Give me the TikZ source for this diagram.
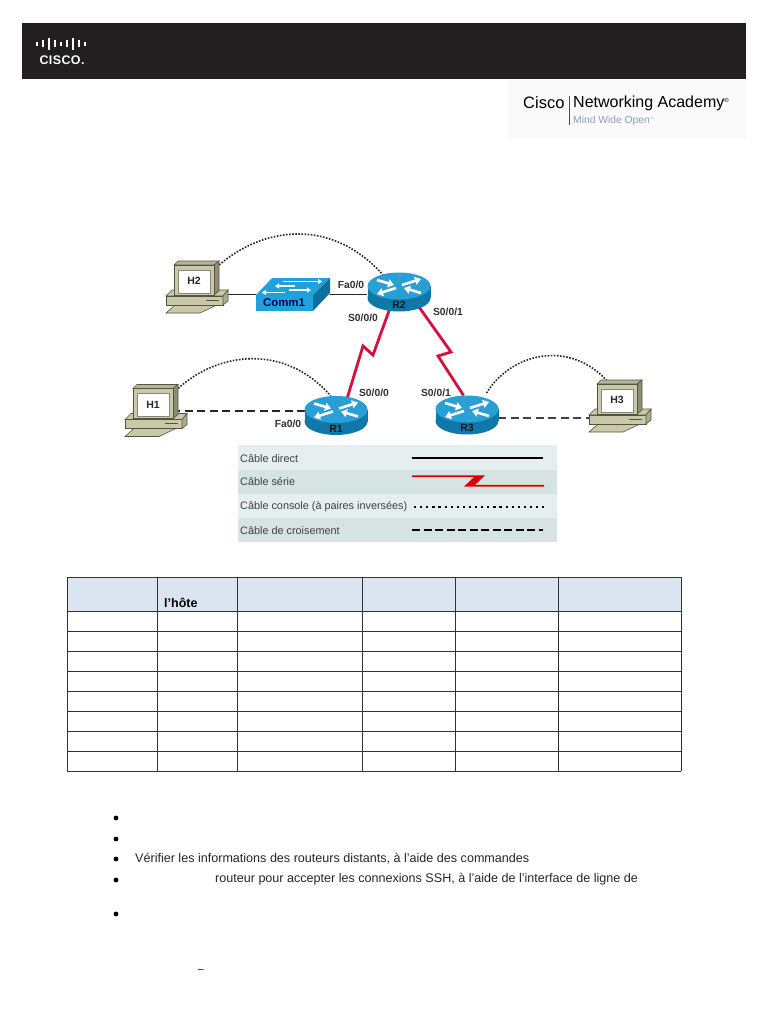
\documentclass[tikz,border=0pt]{standalone}
\usepackage{fontspec}
\setmainfont{Liberation Sans}
\usetikzlibrary{arrows.meta,shapes.geometric}
\definecolor{BarDark}{HTML}{231F20}
\definecolor{RouterTop}{HTML}{2A9FD6}
\definecolor{RouterSide}{HTML}{0F78A8}
\definecolor{SwitchTop}{HTML}{1FA2DC}
\definecolor{SwitchSide}{HTML}{0E6F9E}
\definecolor{PcBody}{HTML}{C9C9AA}
\definecolor{PcLine}{HTML}{55553F}
\definecolor{SerialRed}{HTML}{D5103C}
\definecolor{BandLight}{HTML}{E6EFEF}
\definecolor{BandDark}{HTML}{D6E3E3}
\definecolor{HeadFill}{HTML}{DBE5F1}
\definecolor{AcademyBlue}{HTML}{8C9DB8}
\tikzset{>=Stealth,
 devlabel/.style={font=\bfseries\fontsize{10.5}{12}\selectfont,text=black!85,inner sep=0pt},
 portlabel/.style={font=\bfseries\fontsize{10.3}{12}\selectfont,text=black!80,inner sep=0pt},
 legendlabel/.style={font=\fontsize{10.85}{13}\selectfont,text=black!75,anchor=west,inner sep=0pt},
 bodytext/.style={font=\fontsize{12.57}{15}\selectfont,text=black!85,anchor=west,inner sep=0pt},
 routernode/.style={ellipse,minimum width=63pt,minimum height=39pt,inner sep=0pt},
 pcnode/.style={rectangle,minimum width=45pt,minimum height=34pt,inner sep=0pt},
 switchnode/.style={rectangle,minimum width=74pt,minimum height=33pt,inner sep=0pt},
 direct/.style={draw=black!85,line width=1.2pt},
 serial/.style={draw=SerialRed,line width=2.8pt,line join=miter},
 console/.style={draw=black!85,line width=1.6pt,dash pattern=on 1.6pt off 1.5pt},
 crossover/.style={draw=black!85,line width=1.9pt,dash pattern=on 8pt off 4.5pt},
 whitearrow/.style={draw=white,line width=2.6pt,-{Triangle[length=6pt,width=8pt]}},
 pics/router/.style={code={
  \fill[RouterSide] (0,6) ellipse[x radius=31.5,y radius=13.5];
  \fill[RouterSide] (-31.5,-6) rectangle (31.5,6);
  \fill[RouterTop] (0,-6) ellipse[x radius=31.5,y radius=13.5];
  \foreach \xa/\ya/\xb/\yb in {-22/-12/-5/-7,3/-7/22/-13,-3/-4/-22/2,22/1/5/-4}
   {\draw[whitearrow] (\xa,\ya)--(\xb,\yb);}
  \node[devlabel,text=black!90] (#1lab) at (0,13) {#1};}},
 pics/pcset/.style={code={
  \filldraw[fill=PcBody,draw=PcLine,line width=.6pt] (-30.5,35)--(3.5,35)--(20.5,27)--(-21.5,27)--cycle;
  \filldraw[fill=PcBody,draw=PcLine,line width=.6pt] (-30.5,18)--(-24.5,12)--(31.5,12)--(26.5,18)--cycle;
  \filldraw[fill=PcBody,draw=PcLine,line width=.6pt] (-30.5,18) rectangle (26.5,27);
  \filldraw[fill=PcBody!85!black,draw=PcLine,line width=.6pt] (26.5,18)--(31.5,12)--(31.5,23)--(26.5,27)--cycle;
  \draw[PcLine,line width=.9pt] (9.5,22)--(22.5,22);
  \filldraw[fill=PcBody!90!black,draw=PcLine,line width=.6pt] (-22.5,-13)--(-18.5,-17)--(22.5,-17)--(17.5,-13)--cycle;
  \filldraw[fill=PcBody!70!black,draw=PcLine,line width=.6pt] (17.5,-13)--(22.5,-17)--(22.5,13)--(17.5,17)--cycle;
  \filldraw[fill=PcBody,draw=PcLine,line width=.6pt] (-22.5,-13) rectangle (17.5,17);
  \filldraw[fill=white,draw=PcLine!70,line width=.6pt] (-18.5,-8) rectangle (13.5,15);
  \node[devlabel] (#1lab) at (-2.5,3) {#1};}},
 pics/switchbox/.style={code={
  \fill[SwitchTop] (-37,0.5)--(-21,-16.5)--(37,-16.5)--(20,0.5)--cycle;
  \fill[SwitchSide] (20,0.5)--(37,-16.5)--(37,-1.5)--(20,16.5)--cycle;
  \fill[SwitchTop] (-37,0.5) rectangle (20,16.5);
  \foreach \xa/\ya/\xb/\yb in {-10/-13/29/-13,2/-8.5/-18/-8.5,-4/-4.5/18/-4.5,-8/-2/-31/-2}
   {\draw[whitearrow,line width=1.7pt,-{Triangle[length=4pt,width=5pt]}] (\xa,\ya)--(\xb,\yb);}
  \node[devlabel,text=blue!35!black,font=\bfseries\fontsize{11.4}{13}\selectfont] (switchlab) at (-9,8.5) {Comm1};}}}
\begin{document}
\begin{tikzpicture}[x=1pt,y=-1pt]
\useasboundingbox (0,0) rectangle (768,1024);
\fill[white] (0,0) rectangle (768,1024);
\fill[BarDark] (22,23) rectangle (746,79);
\foreach \x/\h in {37/4,43/7,49/12,55/7,61/4,67/7,73/12,79/7,85/4}
 {\fill[white] (\x-1,44-\h/2) rectangle (\x+1,44+\h/2);}
\node[inner sep=0pt,text=white] (ciscoword) at (62,60) {\bfseries\fontsize{12.5}{14}\selectfont C\kern.4pt I\kern.4pt S\kern.4pt C\kern.4pt O\kern.3pt.};
\fill[black!2] (508,80) rectangle (746,138);
\node[anchor=west,inner sep=0pt] (academyA) at (523,103) {\fontsize{16.5}{18}\selectfont Cisco};
\draw[black!70,line width=.7pt] (569,96)--(569,125);
\node[anchor=west,inner sep=0pt] (academyB) at (573,103) {\fontsize{16}{18}\selectfont Networking Academy\raisebox{5pt}{\fontsize{6}{7}\selectfont ®}};
\node[anchor=west,inner sep=0pt,text=AcademyBlue] (academyC) at (573,121) {\fontsize{10.3}{12}\selectfont Mind Wide Open\raisebox{3pt}{\fontsize{4}{5}\selectfont ™}};
\node[routernode] (R1) at (336,415.5) {};
\node[routernode] (R2) at (399,292) {};
\node[routernode] (R3) at (467,415) {};
\node[pcnode] (H1) at (155.5,401.5) {};
\node[pcnode] (H2) at (196.5,278) {};
\node[pcnode] (H3) at (618.5,398) {};
\node[switchnode] (Comm1) at (293,294.5) {};
\draw[direct,line width=1pt] (H2.east |- Comm1.west)--(Comm1.west);
\draw[direct,line width=1.8pt] (Comm1.east)--(Comm1.east -| R2.west);
\draw[crossover] (R1.172)--(H1.east |- R1.172);
\draw[crossover,line width=1.6pt,draw=black!75] (R3.-5)--(H3.west |- R3.-5);
\draw[serial] (R2.-118)--(373,355)--(363,346)--(R1.58);
\draw[serial] (R2.-37)--(451,352)--(438,356)--(R3.100);
\draw[console] (H2.30) .. controls (262,228) and (330,216) .. (R2.133);
\draw[console] (H1.30) .. controls (218,352) and (285,343) .. (R1.105);
\draw[console,shorten <=6pt] (R3.46) .. controls (512,352) and (570,340) .. (H3.124);
\foreach \nm in {R1,R2,R3} {\pic at (\nm) {router=\nm};}
\foreach \nm/\ox/\oy in {H1/0/0,H2/0/0,H3/1/-1} {\pic at ([shift={(\ox,\oy)}]\nm) {pcset=\nm};}
\pic at (Comm1) {switchbox};
\node[portlabel] (portA) at (351,285) {Fa0/0};
\node[portlabel] (portB) at (363,318) {S0/0/0};
\node[portlabel] (portC) at (448,312) {S0/0/1};
\node[portlabel] (portD) at (374,393) {S0/0/0};
\node[portlabel] (portE) at (288,424) {Fa0/0};
\node[portlabel] (portF) at (436,393) {S0/0/1};
\foreach \yt/\yb/\col in {445/470/BandLight,470/494/BandDark,494/518/BandLight,518/542/BandDark}
 {\fill[\col] (238,\yt) rectangle (557,\yb);}
\node[legendlabel] (legA) at (240,459) {Câble direct};
\node[legendlabel] (legB) at (240,482) {Câble série};
\node[legendlabel] (legC) at (240,507) {Câble console (à paires inversées)};
\node[legendlabel] (legD) at (240,531) {Câble de croisement};
\draw[draw=black,line width=1.8pt] (412,458)--(543,458);
\fill[red!85!black] (412,475.4)--(485,475.4)--(475,484.9)--(544,484.9)--(544,486.6)--(464,486.6)--(474,477.1)--(412,477.1)--cycle;
\draw[draw=black,line width=2.2pt,dash pattern=on 2.2pt off 3.9pt] (414,507)--(544,507);
\draw[draw=black,line width=2pt,dash pattern=on 8pt off 3.5pt] (412,530)--(543,530);
\fill[HeadFill] (67,577) rectangle (681,611);
\foreach \y in {577,611,631,651,671,691,711,731,751,771}
 {\draw[black!80,line width=1pt] (67,\y)--(681,\y);}
\foreach \x in {67,157,237,362,455,558,681}
 {\draw[black!80,line width=1pt] (\x,577)--(\x,771);}
\node[inner sep=0pt,anchor=west] (hoteword) at (164,603) {\bfseries\fontsize{12.5}{14}\selectfont l’hôte};
\foreach \y in {818,839,859,880,914}
 {\fill[black] (116,\y) circle (2.4);}
\node[bodytext] (lineA) at (135,859) {Vérifier les informations des routeurs distants, à l’aide des commandes};
\node[bodytext] (lineB) at (215,879) {routeur pour accepter les connexions SSH, à l’aide de l’interface de ligne de};
\node[inner sep=0pt] (dashmark) at (201,971) {\fontsize{10}{12}\selectfont –};
\end{tikzpicture}
\end{document}
